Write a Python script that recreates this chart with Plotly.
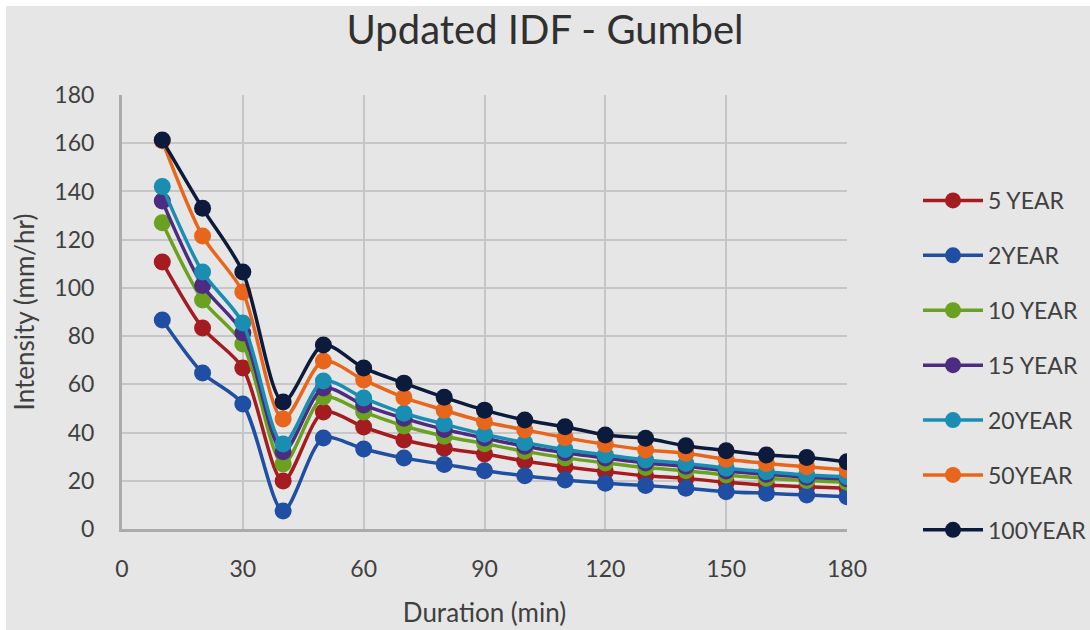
import plotly.graph_objects as go

durations = [10, 20, 30, 40, 50, 60, 70, 80, 90, 100, 110, 120, 130, 140, 150, 160, 170, 180]

series_names = ["5 YEAR", "2YEAR", "10 YEAR", "15 YEAR", "20YEAR", "50YEAR", "100YEAR"]

y5 = [110.7, 83.4, 66.8, 19.9, 48.5, 42.3, 36.9, 33.5, 31.1, 28.2, 25.8, 23.8, 22.1, 21.0, 19.4, 18.2, 17.5, 16.9]
y2 = [86.7, 64.7, 51.8, 7.5, 37.7, 33.2, 29.4, 26.8, 24.2, 22.1, 20.3, 19.0, 18.0, 16.9, 15.5, 14.8, 14.1, 13.4]
y10 = [127.0, 95.0, 76.7, 27.0, 54.7, 48.5, 42.7, 38.5, 35.4, 32.2, 29.5, 27.4, 25.5, 24.2, 22.4, 21.1, 20.1, 19.4]
y15 = [136.0, 101.0, 81.3, 32.0, 58.5, 51.4, 45.9, 41.3, 37.7, 34.3, 31.6, 29.4, 27.4, 26.0, 24.1, 22.7, 21.5, 20.8]
y20 = [142.0, 106.6, 85.4, 35.3, 61.4, 54.3, 48.0, 43.5, 39.3, 35.8, 33.0, 30.7, 28.6, 27.2, 25.2, 23.8, 22.4, 21.7]
y50 = [161.0, 121.5, 98.3, 45.6, 69.7, 61.8, 54.5, 49.3, 44.5, 41.1, 37.9, 35.1, 32.8, 31.4, 28.9, 27.2, 25.8, 24.5]
y100 = [161.3, 133.0, 106.6, 52.7, 76.3, 66.8, 60.5, 54.6, 49.3, 45.2, 42.4, 39.0, 37.6, 34.5, 32.5, 30.7, 29.7, 27.9]

series_values = [y5, y2, y10, y15, y20, y50, y100]
colors = ["#A51C20", "#1F4EA3", "#6AA121", "#4B2C80", "#1A8DB3", "#E8661B", "#0C1B3C"]

FONT = "Lato"
TXT = "#404040"
BG = "#E6E6E6"

fig = go.Figure()
for i, (name, vals, col) in enumerate(zip(series_names, series_values, colors)):
    fig.add_trace(go.Scatter(
        x=durations, y=vals, name=name, mode="lines+markers",
        line=dict(color=col, width=3.5, shape="spline", smoothing=0.8),
        marker=dict(color=col, size=17),
        legendgroup=f"g{i}",
    ))

# Plot area: x 122..847, y 95..529 within 1090x630
L, R, T, B = 122, 1090 - 847, 95, 630 - 529
W, H = 1090 - L - R, 630 - T - B

def px_x(p):
    return (p - L) / W

def px_y(p):
    return (630 - B - p) / H

shapes = [
    dict(type="rect", xref="paper", yref="paper", x0=px_x(-5), x1=px_x(1100), y0=px_y(6), y1=px_y(-5),
         fillcolor="white", line=dict(width=0), layer="below"),
    dict(type="rect", xref="paper", yref="paper", x0=px_x(-5), x1=px_x(6), y0=px_y(640), y1=px_y(-5),
         fillcolor="white", line=dict(width=0), layer="below"),
]

fig.update_layout(
    width=1090, height=630,
    margin=dict(l=L, r=R, t=T, b=B, pad=0, autoexpand=False),
    paper_bgcolor=BG, plot_bgcolor=BG,
    font=dict(family=FONT, color=TXT, size=23),
    title=dict(text="Updated IDF - Gumbel", x=0.5, xref="container", xanchor="center",
               y=1 - 30 / 630, yref="container", yanchor="middle",
               font=dict(family=FONT, size=40, color="#303030")),
    shapes=shapes,
    showlegend=True,
    legend=dict(x=px_x(918), xanchor="left", y=px_y(179), yanchor="top",
                font=dict(family=FONT, size=23, color=TXT),
                bgcolor="rgba(0,0,0,0)", tracegroupgap=22, itemwidth=60,
                traceorder="grouped"),
)

fig.update_xaxes(
    range=[0, 180], dtick=30, tick0=0, showgrid=True, gridcolor="#C6C6C6", gridwidth=2,
    showline=True, linecolor="#ABABAB", linewidth=3, zeroline=False,
    ticks="", ticklabelstandoff=17, tickfont=dict(size=23, color=TXT),
    title=dict(text="Duration (min)", font=dict(size=26, color=TXT), standoff=24),
)
fig.update_yaxes(
    range=[0, 180], dtick=20, tick0=0, showgrid=True, gridcolor="#C6C6C6", gridwidth=2,
    showline=True, linecolor="#ABABAB", linewidth=3, zeroline=False,
    ticks="", ticklabelstandoff=20, tickfont=dict(size=23, color=TXT),
    title=dict(text="Intensity (mm/hr)", font=dict(size=26, color=TXT), standoff=13),
)

fig.write_html("out.html")
